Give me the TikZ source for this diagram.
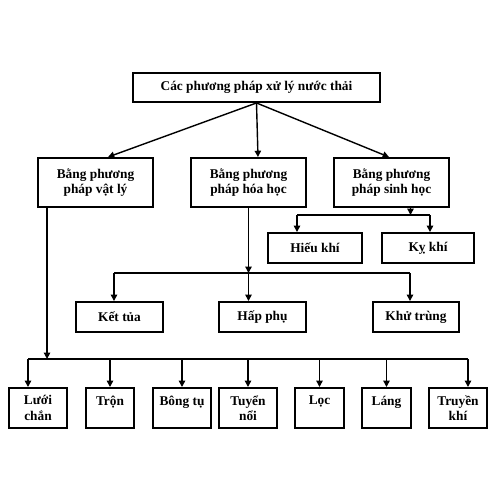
\documentclass[tikz,border=0pt]{standalone}
\usepackage{fontspec}
\setmainfont{Liberation Serif}
\usetikzlibrary{arrows.meta, positioning}

\begin{document}
\begin{tikzpicture}[x=0.02cm, y=-0.02cm,
  font=\fontsize{7.6}{8.6}\selectfont\bfseries,
  box/.style={draw, line width=1.1pt, align=center, inner sep=1pt},
  link/.style={line width=0.8pt},
  arr/.style={link, -{Triangle[length=3.6pt,width=3.6pt]}}]
\useasboundingbox (0,0) rectangle (500,500);

% main title
\node[box, minimum width=4.94cm, minimum height=0.58cm] (main) at (256.5,87.5) {Các phương pháp xử lý nước thải};

% three methods
\node[box, minimum width=2.3cm, minimum height=0.98cm] (vatly) at (95.5,182.5) {Bằng phương\\pháp vật lý};
\node[box, minimum width=2.3cm, minimum height=0.98cm] (hoahoc) at (248.5,182.5) {Bằng phương\\pháp hóa học};
\node[box, minimum width=2.3cm, minimum height=0.98cm] (sinhhoc) at (391.5,182.5) {Bằng phương\\pháp sinh học};

\draw[arr] (main.south) -- ([xshift=0.25cm]vatly.north);
\draw[arr] (main.south) -- ([xshift=0.19cm]hoahoc.north);
\draw[arr] (main.south) -- ([xshift=-0.05cm]sinhhoc.north);

% biological
\node[box, minimum width=1.88cm, minimum height=0.6cm] (hieukhi) at (315,248) {Hiếu khí};
\node[box, minimum width=1.84cm, minimum height=0.6cm] (kykhi) at (428,248) {Kỵ khí};
\coordinate (sbus) at ([xshift=0.38cm]sinhhoc.south |- 0,215);
\draw[arr] (sbus |- sinhhoc.south) -- (sbus);
\draw[link] ([xshift=-0.36cm]hieukhi.north |- sbus) -- ([xshift=0.04cm]kykhi.north |- sbus);
\draw[arr] ([xshift=-0.36cm]hieukhi.north |- sbus) -- ([xshift=-0.36cm]hieukhi.north);
\draw[arr] ([xshift=0.04cm]kykhi.north |- sbus) -- ([xshift=0.04cm]kykhi.north);

% chemical
\node[box, minimum width=1.74cm, minimum height=0.6cm] (kettua) at (119.5,317) {Kết tủa};
\node[box, minimum width=1.74cm, minimum height=0.6cm] (happhu) at (262.5,317) {Hấp phụ};
\node[box, minimum width=1.72cm, minimum height=0.6cm] (khutrung) at (416,317) {Khử trùng};
\coordinate (cbus) at (hoahoc.south |- 0,273);
\draw[arr] (hoahoc.south) -- (cbus);
\draw[link] ([xshift=-0.11cm]kettua.north |- cbus) -- ([xshift=-0.12cm]khutrung.north |- cbus);
\draw[arr] (cbus) -- (cbus |- happhu.north);
\draw[arr] ([xshift=-0.11cm]kettua.north |- cbus) -- ([xshift=-0.11cm]kettua.north);
\draw[arr] ([xshift=-0.12cm]khutrung.north |- cbus) -- ([xshift=-0.12cm]khutrung.north);

% physical
\tikzset{small/.style={box, minimum height=0.8cm, anchor=north, inner ysep=3pt}}
\node[small, minimum width=1.16cm] (luoi) at (38,387) {Lưới\\chắn};
\node[small, minimum width=0.96cm] (tron) at (110,387) {Trộn\\\mbox{}};
\node[small, minimum width=1.16cm] (bongtu) at (182,387) {Bông tụ\\\mbox{}};
\node[small, minimum width=1.16cm] (tuyennoi) at (248,387) {Tuyển\\nổi};
\node[small, minimum width=0.98cm] (loc) at (319.5,387) {Lọc\\\mbox{}};
\node[small, minimum width=0.98cm] (lang) at (386.5,387) {Láng\\\mbox{}};
\node[small, minimum width=1.16cm] (truyenkhi) at (458,387) {Truyền\\khí};
\coordinate (pbus) at ([xshift=0.2cm]vatly.south west |- 0,359);
\draw[arr] (pbus |- vatly.south) -- (pbus);
\draw[link] ([xshift=-0.2cm]luoi.north |- pbus) -- ([xshift=0.2cm]truyenkhi.north |- pbus);
\draw[arr] ([xshift=-0.2cm]luoi.north |- pbus) -- ([xshift=-0.2cm]luoi.north);
\draw[arr] ([xshift=0.2cm]truyenkhi.north |- pbus) -- ([xshift=0.2cm]truyenkhi.north);
\foreach \n in {tron,bongtu,tuyennoi,loc,lang}
  \draw[arr] (\n.north |- pbus) -- (\n.north);
\end{tikzpicture}
\end{document}
